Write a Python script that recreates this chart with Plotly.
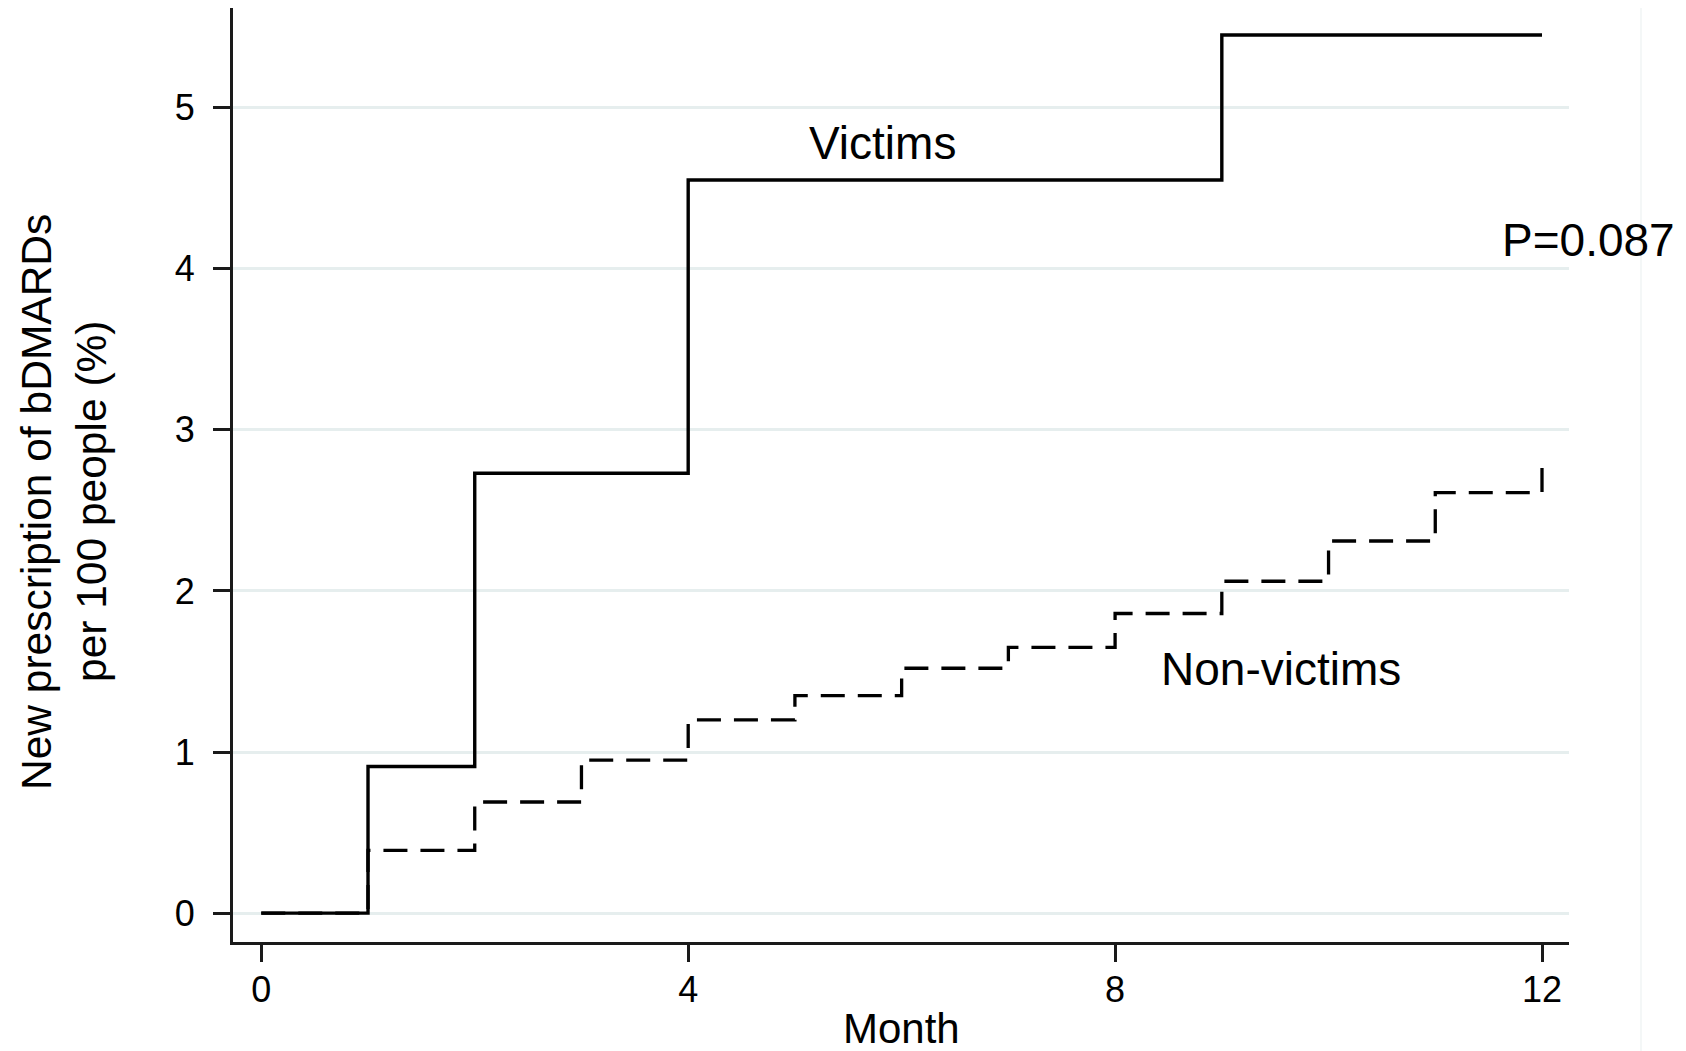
import plotly.graph_objects as go

# Data
months = [0, 1, 2, 3, 4, 5, 6, 7, 8, 9, 10, 11, 12]
victims = [0, 0.91, 2.73, 2.73, 4.55, 4.55, 4.55, 4.55, 4.55, 5.45, 5.45, 5.45, 5.45]
non_victims = [0, 0.39, 0.69, 0.95, 1.20, 1.35, 1.52, 1.65, 1.86, 2.06, 2.31, 2.61, 2.80]
x_ticks = [0, 4, 8, 12]
y_ticks = [0, 1, 2, 3, 4, 5]

FONT = "Liberation Sans, Arial, sans-serif"

# plot area (figure coords): x 225..1561, y 0..934
PL, PR, PT, PB = 225, 1561, 0, 934
def px(x):
    return (x - PL) / (PR - PL)
def py(y):
    return (PB - y) / (PB - PT)

fig = go.Figure()
fig.add_trace(go.Scatter(
    x=months, y=non_victims, mode="lines", line_shape="hv",
    line=dict(color="#000000", width=3.3, dash="24px,13px"), showlegend=False,
))
fig.add_trace(go.Scatter(
    x=months, y=victims, mode="lines", line_shape="hv",
    line=dict(color="#000000", width=3.4), showlegend=False,
))

fig.update_layout(
    width=1686, height=1051,
    margin=dict(l=PL, r=1686 - PR, t=PT, b=1051 - PB),
    paper_bgcolor="white", plot_bgcolor="white",
    font=dict(family=FONT, color="#000000"),
    xaxis=dict(
        range=[-0.265, 12.253], tickvals=x_ticks, ticktext=[str(v) for v in x_ticks],
        showgrid=False, zeroline=False, showline=True, linecolor="#1a1a1a", linewidth=2.8,
        ticks="outside", ticklen=17, tickwidth=2.6, tickcolor="#1a1a1a",
        tickfont=dict(size=36, family=FONT), ticklabelstandoff=-3,
    ),
    yaxis=dict(
        range=[-0.179, 5.618], tickvals=y_ticks, ticktext=[str(v) for v in y_ticks],
        showgrid=True, gridcolor="#e6eeee", gridwidth=2.5, zeroline=False,
        showline=True, linecolor="#1a1a1a", linewidth=2.8,
        ticks="outside", ticklen=17, tickwidth=2.6, tickcolor="#1a1a1a",
        tickfont=dict(size=36, family=FONT), ticklabelstandoff=11,
    ),
)

fig.add_annotation(x=5.82, y=4.78, xref="x", yref="y", text="Victims", showarrow=False,
                   font=dict(size=46, family=FONT), xanchor="center", yanchor="middle")
fig.add_annotation(x=9.557, y=1.514, xref="x", yref="y", text="Non-victims", showarrow=False,
                   font=dict(size=46, family=FONT), xanchor="center", yanchor="middle")
# P-value sits right of the plot area, so place it in paper coords (page px target)
fig.add_annotation(x=px(1588 - 8), y=py(240 - 8), xref="paper", yref="paper",
                   text="P=0.087", showarrow=False,
                   font=dict(size=46, family=FONT), xanchor="center", yanchor="middle")
# axis titles (targets given in page pixels, figure sits 8px in from page corner)
fig.add_annotation(x=px(901 - 8), y=py(1028 - 8), xref="paper", yref="paper",
                   text="Month", showarrow=False, font=dict(size=42, family=FONT),
                   xanchor="center", yanchor="middle")
fig.add_annotation(x=px(36 - 8), y=py(502 - 8), xref="paper", yref="paper",
                   text="New prescription of bDMARDs", showarrow=False,
                   font=dict(size=42.5, family=FONT), textangle=-90,
                   xanchor="center", yanchor="middle")
fig.add_annotation(x=px(91 - 8), y=py(502 - 8), xref="paper", yref="paper",
                   text="per 100 people (%)", showarrow=False,
                   font=dict(size=42.5, family=FONT), textangle=-90,
                   xanchor="center", yanchor="middle")

# faint frame line at the right of the image
fig.add_shape(type="line", xref="paper", yref="paper",
              x0=px(1641 - 8), x1=px(1641 - 8), y0=py(1051), y1=py(-8),
              line=dict(color="#f1f5f5", width=1.5))

fig.write_html("out.html")
